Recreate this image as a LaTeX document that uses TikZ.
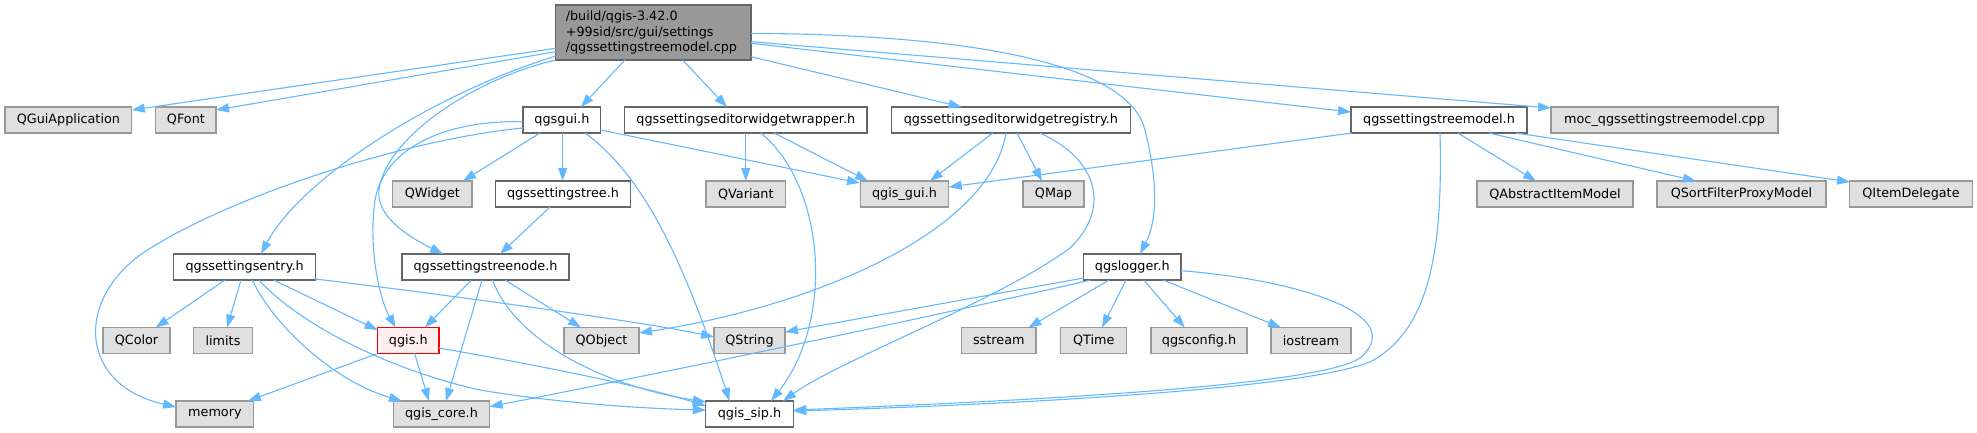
\documentclass[tikz,border=0pt]{standalone}
\usepackage{fontspec}
\setmainfont{DejaVu Sans}
\usetikzlibrary{arrows.meta,calc}
\definecolor{edgeblue}{HTML}{63B8FF}
\definecolor{rootfill}{HTML}{999999}
\definecolor{darkborder}{HTML}{666666}
\definecolor{extfill}{HTML}{E0E0E0}
\definecolor{extborder}{HTML}{999999}
\definecolor{hlfill}{HTML}{FFF0F0}
\definecolor{hlborder}{HTML}{FF0000}
\tikzset{
  box/.style={draw=darkborder, fill=white, line width=1.2pt, minimum height=26pt,
    inner sep=0pt, font=\fontsize{12.8}{15.5}\selectfont},
  ext/.style={box, draw=extborder, fill=extfill},
  hl/.style={box, draw=hlborder, fill=hlfill},
  rootbox/.style={box, fill=rootfill},
  dep/.style={draw=edgeblue, line width=1.1pt, -{Triangle[length=13pt,width=9pt]}}
}
\begin{document}
\begin{tikzpicture}[x=1pt,y=-1pt]
\useasboundingbox (0,0) rectangle (1977,432);
% row 0
\node[rootbox, minimum width=195.4pt, minimum height=55pt, align=left, text width=175pt] (root) at (653.3,32.5)
  {/build/qgis-3.42.0\\+99sid/src/gui/settings\\/qgssettingstreemodel.cpp};
% row 1
\node[ext, minimum width=126.7pt] (qguiapp) at (68.4,120) {QGuiApplication};
\node[ext, minimum width=60.3pt] (qfont) at (185.9,120) {QFont};
\node[box, minimum width=77.7pt] (qgsgui) at (561.9,120) {qgsgui.h};
\node[box, minimum width=242.4pt] (wrapper) at (745.8,120) {qgssettingseditorwidgetwrapper.h};
\node[box, minimum width=238.8pt] (registry) at (1010.9,120) {qgssettingseditorwidgetregistry.h};
\node[box, minimum width=176pt] (treemodel) at (1439,120) {qgssettingstreemodel.h};
\node[ext, minimum width=227pt] (moc) at (1664.5,120) {moc\_qgssettingstreemodel.cpp};
% row 2
\node[ext, minimum width=79.3pt] (qwidget) at (432.4,194) {QWidget};
\node[box, minimum width=135.1pt] (tree) at (563,194) {qgssettingstree.h};
\node[ext, minimum width=79.5pt] (qvariant) at (745.8,194) {QVariant};
\node[ext, minimum width=88.3pt] (qgisgui) at (904.5,194) {qgis\_gui.h};
\node[ext, minimum width=61pt] (qmap) at (1053.5,194) {QMap};
\node[ext, minimum width=156pt] (qaim) at (1555,194) {QAbstractItemModel};
\node[ext, minimum width=169pt] (qsfpm) at (1741.5,194) {QSortFilterProxyModel};
\node[ext, minimum width=122.5pt] (qid) at (1911,194) {QItemDelegate};
% row 3
\node[box, minimum width=141.5pt] (entry) at (244.6,267) {qgssettingsentry.h};
\node[box, minimum width=167pt] (treenode) at (485.5,267) {qgssettingstreenode.h};
\node[box, minimum width=97.5pt] (logger) at (1132.3,267) {qgslogger.h};
% row 4
\node[ext, minimum width=67pt] (qcolor) at (136.5,340.5) {QColor};
\node[ext, minimum width=59pt] (limits) at (223,340.5) {limits};
\node[hl, minimum width=61.4pt] (qgish) at (408.3,340.5) {qgis.h};
\node[ext, minimum width=75pt] (qobject) at (601.5,340.5) {QObject};
\node[ext, minimum width=71pt] (qstring) at (749.5,340.5) {QString};
\node[ext, minimum width=74.4pt] (sstream) at (998.8,340.5) {sstream};
\node[ext, minimum width=66pt] (qtime) at (1093.8,340.5) {QTime};
\node[ext, minimum width=96pt] (qgsconfig) at (1199,340.5) {qgsconfig.h};
\node[ext, minimum width=80pt] (iostream) at (1311,340.5) {iostream};
% row 5
\node[ext, minimum width=77.8pt] (memory) at (214.9,414) {memory};
\node[ext, minimum width=96pt] (qgiscore) at (441.5,414) {qgis\_core.h};
\node[box, minimum width=87.5pt] (sip) at (749.5,414) {qgis\_sip.h};

% edges from root
\draw[dep] ($(root)+(-97.7,15.8)$) -- ($(qguiapp)+(63.3,-10)$);
\draw[dep] ($(root)+(-97.7,19.2)$) -- ($(qfont)+(30.1,-10)$);
\draw[dep] ($(root)+(-28.3,27.5)$) -- ($(qgsgui)+(18.9,-13)$);
\draw[dep] ($(root)+(29.3,27.5)$) -- ($(wrapper)+(-18.8,-13)$);
\draw[dep] ($(root)+(97.7,24.2)$) -- ($(registry)+(-49.3,-13)$);
\draw[dep] ($(root)+(97.7,10.8)$) -- ($(treemodel)+(-88,-8)$);
\draw[dep] ($(root)+(97.7,9.2)$) -- ($(moc)+(-113.5,-12)$);
\draw[dep] ($(root)+(97.7,0.8)$) .. controls (1000,35) and (1130,70) .. (1145,130)
  .. controls (1155,170) and (1160,215) .. ($(logger)+(7.7,-13)$);
\draw[dep] ($(root)+(-97.7,23.5)$) .. controls (430,95) and (300,180) .. ($(entry)+(16.4,-13)$);
\draw[dep] ($(root)+(-97.7,27.5)$) .. controls (470,80) and (385,140) .. (379,190)
  .. controls (376,215) and (405,235) .. ($(treenode)+(-42.5,-13)$);
% qgsgui.h
\draw[dep] ($(qgsgui)+(-21.9,13)$) -- ($(qwidget)+(30.6,-13)$);
\draw[dep] ($(qgsgui)+(0.8,13)$) -- ($(tree)+(-0.3,-13)$);
\draw[dep] ($(qgsgui)+(38.8,10)$) -- ($(qgisgui)+(-44.5,-11)$);
\draw[dep] ($(qgsgui)+(23.1,13)$) .. controls (650,180) and (690,280) .. ($(sip)+(-20,-13)$);
\draw[dep] ($(qgsgui)+(-39.2,8)$) .. controls (400,140) and (220,200) .. (140,255)
  .. controls (75,303) and (80,385) .. ($(memory)+(-38.9,-7)$);
\draw[dep] ($(qgsgui)+(-39.2,1.7)$) .. controls (450,120) and (385,145) .. (375,200)
  .. controls (368,250) and (380,300) .. ($(qgish)+(-12.7,-13)$);
% qgssettingstree.h
\draw[dep] ($(tree)+(-13,13)$) -- ($(treenode)+(14.5,-13)$);
% wrapper
\draw[dep] ($(wrapper)+(0,13)$) -- ($(qvariant)+(0,-13)$);
\draw[dep] ($(wrapper)+(28.2,13)$) -- ($(qgisgui)+(-36.5,-13)$);
\draw[dep] ($(wrapper)+(14.9,13)$) .. controls (825,185) and (835,320) .. ($(sip)+(21.5,-13)$);
% registry
\draw[dep] ($(registry)+(-18.1,13)$) -- ($(qgisgui)+(25.5,-13)$);
\draw[dep] ($(registry)+(6.1,13)$) -- ($(qmap)+(-11.5,-13)$);
\draw[dep] ($(registry)+(-4.9,13)$) .. controls (990,230) and (820,305) .. ($(qobject)+(37.5,-7.5)$);
\draw[dep] ($(registry)+(28.8,13)$) .. controls (1100,160) and (1110,210) .. (1070,248)
  .. controls (1000,300) and (840,360) .. ($(sip)+(33.5,-13)$);
% treemodel
\draw[dep] ($(treemodel)+(-87,13)$) -- ($(qgisgui)+(44.1,-7)$);
\draw[dep] ($(treemodel)+(18.8,13)$) -- ($(qaim)+(-19,-13)$);
\draw[dep] ($(treemodel)+(50,13)$) -- ($(qsfpm)+(-45.5,-13)$);
\draw[dep] ($(treemodel)+(76.6,13)$) -- ($(qid)+(-61,-12)$);
\draw[dep] ($(treemodel)+(1,13)$) .. controls (1443,250) and (1430,330) .. (1370,362)
  .. controls (1300,390) and (1000,405) .. ($(sip)+(43.8,-3)$);
% logger
\draw[dep] ($(logger)+(-48.8,11)$) -- ($(qstring)+(35.5,-8.5)$);
\draw[dep] ($(logger)+(-41.3,13)$) .. controls (850,335) and (600,385) .. ($(qgiscore)+(48,-7.3)$);
\draw[dep] ($(logger)+(-23.3,13)$) -- ($(sstream)+(29.7,-13)$);
\draw[dep] ($(logger)+(-6.3,13)$) -- ($(qtime)+(8.2,-13)$);
\draw[dep] ($(logger)+(11.4,13)$) -- ($(qgsconfig)+(-14.2,-13)$);
\draw[dep] ($(logger)+(30.7,13)$) -- ($(iostream)+(-30,-13)$);
\draw[dep] ($(logger)+(48.7,3.7)$) .. controls (1300,280) and (1410,315) .. (1360,358)
  .. controls (1320,385) and (1050,400) .. ($(sip)+(43.8,-4)$);
% entry
\draw[dep] ($(entry)+(-19.6,13)$) -- ($(qcolor)+(19.2,-13)$);
\draw[dep] ($(entry)+(-3.6,13)$) -- ($(limits)+(4,-13)$);
\draw[dep] ($(entry)+(29,13)$) -- ($(qgish)+(-30.7,-10.5)$);
\draw[dep] ($(entry)+(70.7,12)$) .. controls (450,295) and (650,323) .. ($(qstring)+(-35.5,-3.5)$);
\draw[dep] ($(entry)+(7.9,13)$) .. controls (270,320) and (330,380) .. ($(qgiscore)+(-39.5,-13)$);
\draw[dep] ($(entry)+(14.3,13)$) .. controls (300,325) and (390,370) .. (480,390)
  .. controls (570,405) and (660,409) .. ($(sip)+(-43.7,-4)$);
% treenode
\draw[dep] ($(treenode)+(-14.1,13)$) -- ($(qgish)+(16.7,-13)$);
\draw[dep] ($(treenode)+(-3.5,13)$) -- ($(qgiscore)+(4.5,-13)$);
\draw[dep] ($(treenode)+(19.5,13)$) -- ($(qobject)+(-20.5,-13)$);
\draw[dep] ($(treenode)+(7,13)$) .. controls (515,340) and (600,385) .. ($(sip)+(-43.7,-12)$);
% qgis.h
\draw[dep] ($(qgish)+(-30.7,13)$) -- ($(memory)+(33,-13)$);
\draw[dep] ($(qgish)+(6.3,13)$) -- ($(qgiscore)+(-12.5,-13)$);
\draw[dep] ($(qgish)+(30.7,7.5)$) .. controls (520,362) and (640,385) .. ($(sip)+(-43.7,-8)$);
\end{tikzpicture}
\end{document}
